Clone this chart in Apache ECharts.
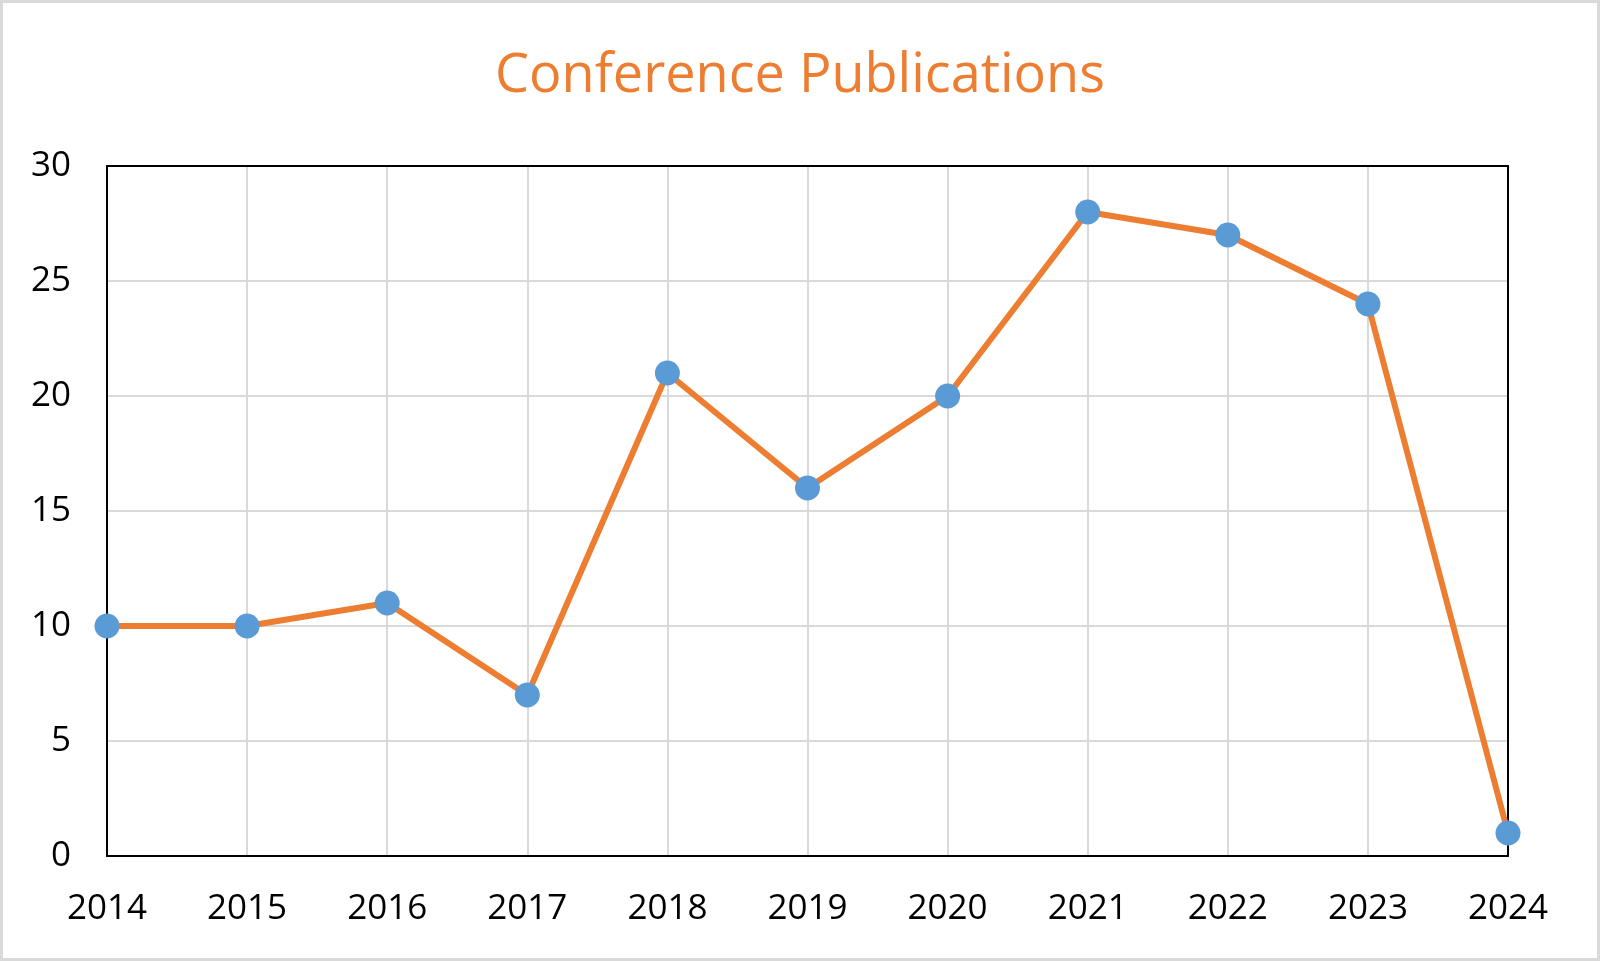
<!DOCTYPE html>
<html>
<head>
<meta charset="utf-8">
<script src="https://cdn.jsdelivr.net/npm/echarts@6/dist/echarts.min.js"></script>
<style>
html,body{margin:0;padding:0;background:#fff;}
#chart{width:1600px;height:961px;}
</style>
</head>
<body>
<div id="chart"></div>
<script>
const years = ['2014','2015','2016','2017','2018','2019','2020','2021','2022','2023','2024'];
const publications = [10,10,11,7,21,16,20,28,27,24,1];
const yTicks = {min:0, max:30, interval:5};

const frameAxisX = {
  type:'category', data:years, boundaryGap:false, position:'top',
  axisLine:{show:true, onZero:false, lineStyle:{color:'#000', width:2}},
  axisTick:{show:false}, axisLabel:{show:false}, splitLine:{show:false}, z:10
};
const frameAxisY = {
  type:'value', min:yTicks.min, max:yTicks.max, interval:yTicks.interval, position:'right',
  axisLine:{show:true, onZero:false, lineStyle:{color:'#000', width:2}},
  axisTick:{show:false}, axisLabel:{show:false}, splitLine:{show:false}, z:10
};

const chart = echarts.init(document.getElementById('chart'));
chart.setOption({
  backgroundColor:'#ffffff',
  animation:false,
  title:{
    text:'Conference Publications',
    left:'center', top:45,
    textStyle:{color:'#ed7d31', fontFamily:'Open Sans', fontSize:54, fontWeight:'normal'}
  },
  graphic:[{
    type:'rect', silent:true,
    shape:{x:1.5,y:1.5,width:1597,height:958},
    style:{fill:'none', stroke:'#d9d9d9', lineWidth:3}
  }],
  grid:{left:107, right:92, top:166, bottom:105},
  xAxis:[{
    type:'category', data:years, boundaryGap:false,
    axisLine:{show:true, lineStyle:{color:'#000', width:2}},
    axisTick:{show:false},
    axisLabel:{color:'#000', fontFamily:'Open Sans', fontSize:35, margin:36, interval:0},
    splitLine:{show:true, lineStyle:{color:'#d9d9d9', width:2}},
    z:5
  }, frameAxisX],
  yAxis:[{
    type:'value', min:yTicks.min, max:yTicks.max, interval:yTicks.interval,
    axisLine:{show:true, lineStyle:{color:'#000', width:2}},
    axisTick:{show:false},
    axisLabel:{color:'#000', fontFamily:'Open Sans', fontSize:35, margin:36},
    splitLine:{show:true, lineStyle:{color:'#d9d9d9', width:2}},
    z:5
  }, frameAxisY],
  series:[{
    type:'line', data:publications,
    lineStyle:{color:'#ed7d31', width:6},
    itemStyle:{color:'#5b9bd5'},
    symbol:'circle', symbolSize:25,
    z:11
  }]
});
</script>
</body>
</html>
